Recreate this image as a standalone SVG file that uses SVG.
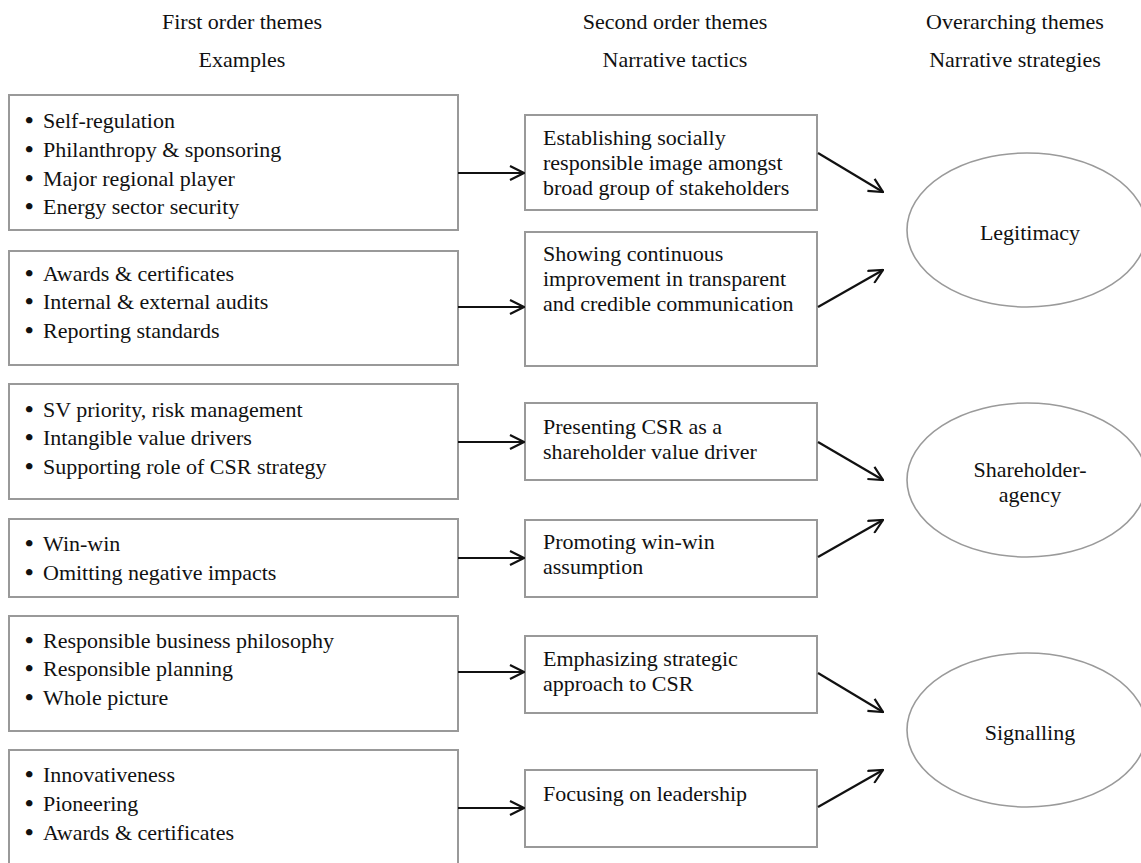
<svg xmlns="http://www.w3.org/2000/svg" width="1141" height="863" viewBox="0 0 1141 863">
<style>
text{font-family:"Liberation Serif","Times New Roman",serif;font-size:22px;fill:#111}
.hd{text-anchor:middle}
.ctr{text-anchor:middle}
.b{font-size:24px;font-weight:bold}
.box{fill:#fff;stroke:#999;stroke-width:2}
.ell{fill:#fff;stroke:#9a9a9a;stroke-width:1.6}
.ar{stroke:#111;stroke-width:2.2;fill:none;marker-end:url(#ah)}
</style>
<defs>
<marker id="ah" markerUnits="userSpaceOnUse" viewBox="0 0 16 16" refX="15" refY="8" markerWidth="16" markerHeight="16" orient="auto">
<path d="M1,1 L15,8 L1,15" fill="none" stroke="#111" stroke-width="2.2"/>
</marker>
</defs>
<rect width="1141" height="863" fill="#fff"/>
<g id="headers">
<text class="hd" x="242" y="29">First order themes</text>
<text class="hd" x="242" y="67">Examples</text>
<text class="hd" x="675" y="29">Second order themes</text>
<text class="hd" x="675" y="67">Narrative tactics</text>
<text class="hd" x="1015" y="29">Overarching themes</text>
<text class="hd" x="1015" y="67">Narrative strategies</text>
</g>
<g id="ex1">
<rect class="box" x="9" y="95" width="449" height="135"/>
<text y="128"><tspan class="b" x="25">•</tspan><tspan x="43">Self-regulation</tspan></text>
<text y="157"><tspan class="b" x="25">•</tspan><tspan x="43">Philanthropy &amp; sponsoring</tspan></text>
<text y="186"><tspan class="b" x="25">•</tspan><tspan x="43">Major regional player</tspan></text>
<text y="214"><tspan class="b" x="25">•</tspan><tspan x="43">Energy sector security</tspan></text>
</g>
<g id="ex2">
<rect class="box" x="9" y="251" width="449" height="114"/>
<text y="281"><tspan class="b" x="25">•</tspan><tspan x="43">Awards &amp; certificates</tspan></text>
<text y="309"><tspan class="b" x="25">•</tspan><tspan x="43">Internal &amp; external audits</tspan></text>
<text y="338"><tspan class="b" x="25">•</tspan><tspan x="43">Reporting standards</tspan></text>
</g>
<g id="ex3">
<rect class="box" x="9" y="384" width="449" height="115"/>
<text y="417"><tspan class="b" x="25">•</tspan><tspan x="43">SV priority, risk management</tspan></text>
<text y="445"><tspan class="b" x="25">•</tspan><tspan x="43">Intangible value drivers</tspan></text>
<text y="474"><tspan class="b" x="25">•</tspan><tspan x="43">Supporting role of CSR strategy</tspan></text>
</g>
<g id="ex4">
<rect class="box" x="9" y="519" width="449" height="78"/>
<text y="551"><tspan class="b" x="25">•</tspan><tspan x="43">Win-win</tspan></text>
<text y="580"><tspan class="b" x="25">•</tspan><tspan x="43">Omitting negative impacts</tspan></text>
</g>
<g id="ex5">
<rect class="box" x="9" y="616" width="449" height="115"/>
<text y="648"><tspan class="b" x="25">•</tspan><tspan x="43">Responsible business philosophy</tspan></text>
<text y="676"><tspan class="b" x="25">•</tspan><tspan x="43">Responsible planning</tspan></text>
<text y="705"><tspan class="b" x="25">•</tspan><tspan x="43">Whole picture</tspan></text>
</g>
<g id="ex6">
<rect class="box" x="9" y="750" width="449" height="130"/>
<text y="782"><tspan class="b" x="25">•</tspan><tspan x="43">Innovativeness</tspan></text>
<text y="811"><tspan class="b" x="25">•</tspan><tspan x="43">Pioneering</tspan></text>
<text y="840"><tspan class="b" x="25">•</tspan><tspan x="43">Awards &amp; certificates</tspan></text>
</g>
<g id="t1">
<rect class="box" x="525" y="115" width="292" height="95"/>
<text x="543" y="145">Establishing socially</text>
<text x="543" y="170">responsible image amongst</text>
<text x="543" y="195">broad group of stakeholders</text>
</g>
<g id="t2">
<rect class="box" x="525" y="232" width="292" height="134"/>
<text x="543" y="261">Showing continuous</text>
<text x="543" y="286">improvement in transparent</text>
<text x="543" y="311">and credible communication</text>
</g>
<g id="t3">
<rect class="box" x="525" y="403" width="292" height="77"/>
<text x="543" y="434">Presenting CSR as a</text>
<text x="543" y="459">shareholder value driver</text>
</g>
<g id="t4">
<rect class="box" x="525" y="520" width="292" height="77"/>
<text x="543" y="549">Promoting win-win</text>
<text x="543" y="574">assumption</text>
</g>
<g id="t5">
<rect class="box" x="525" y="636" width="292" height="77"/>
<text x="543" y="666">Emphasizing strategic</text>
<text x="543" y="691">approach to CSR</text>
</g>
<g id="t6">
<rect class="box" x="525" y="770" width="292" height="77"/>
<text x="543" y="801">Focusing on leadership</text>
</g>
<g id="s1">
<ellipse class="ell" cx="1027" cy="230" rx="120" ry="77"/>
<text class="ctr" x="1030" y="240">Legitimacy</text>
</g>
<g id="s2">
<ellipse class="ell" cx="1027" cy="480" rx="120" ry="77"/>
<text class="ctr" x="1030" y="477">Shareholder-</text>
<text class="ctr" x="1030" y="502">agency</text>
</g>
<g id="s3">
<ellipse class="ell" cx="1027" cy="730" rx="120" ry="77"/>
<text class="ctr" x="1030" y="740">Signalling</text>
</g>
<g id="connectors">
<line class="ar" x1="458" y1="173" x2="524" y2="173"/>
<line class="ar" x1="458" y1="307" x2="524" y2="307"/>
<line class="ar" x1="458" y1="442" x2="524" y2="442"/>
<line class="ar" x1="458" y1="558" x2="524" y2="558"/>
<line class="ar" x1="458" y1="672" x2="524" y2="672"/>
<line class="ar" x1="458" y1="808" x2="524" y2="808"/>
<line class="ar" x1="818" y1="153" x2="883" y2="192"/>
<line class="ar" x1="818" y1="307" x2="883" y2="270"/>
<line class="ar" x1="818" y1="442" x2="883" y2="480"/>
<line class="ar" x1="818" y1="557" x2="883" y2="520"/>
<line class="ar" x1="818" y1="673" x2="883" y2="712"/>
<line class="ar" x1="818" y1="807" x2="883" y2="770"/>
</g>
</svg>
